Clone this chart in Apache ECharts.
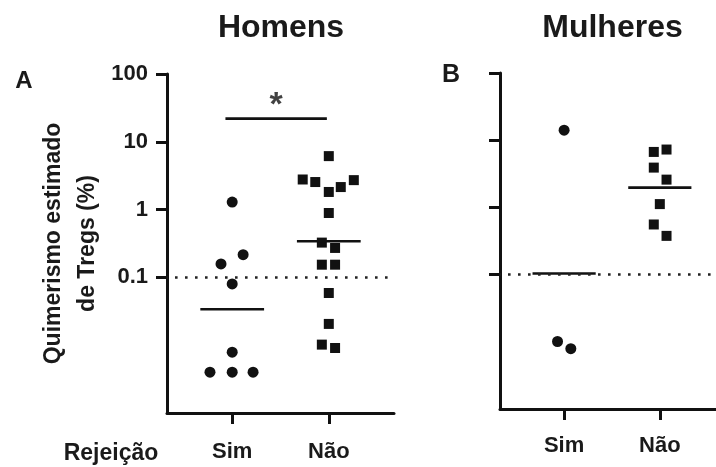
<!DOCTYPE html>
<html>
<head>
<meta charset="utf-8">
<script src="https://cdn.jsdelivr.net/npm/echarts@6/dist/echarts.min.js"></script>
<style>
  html, body { margin: 0; padding: 0; background: #fff; }
  #chart { width: 716px; height: 467px; }
</style>
</head>
<body>
<div id="chart"></div>
<script>
// Groups on the x axis, positioned at 1 and 2
const categories = ['Sim', 'Não'];
// Log-scale ticks shown on the y axis
const yTickValues = [0.1, 1, 10, 100];
const yTickLabels = ['0.1', '1', '10', '100'];

// Homens – estimated Treg chimerism (%) and horizontal spread of each point
const homensSimValues = [1.29, 0.216, 0.158, 0.080, 0.0079, 0.0040, 0.0040, 0.0040];
const homensSimJitter = [0, 0.113, -0.116, 0, 0, -0.23, 0, 0.216];
const homensNaoValues = [6.15, 2.78, 2.55, 1.82, 2.15, 2.72, 0.891, 0.326, 0.272, 0.154, 0.154, 0.0589, 0.0206, 0.0102, 0.0091];
const homensNaoJitter = [0, -0.27, -0.14, 0, 0.124, 0.259, 0, -0.072, 0.065, -0.072, 0.065, 0, 0, -0.072, 0.065];

// Mulheres
const mulheresSimValues = [14.1, 0.0101, 0.0079];
const mulheresSimJitter = [0, -0.069, 0.07];
const mulheresNaoValues = [6.69, 7.26, 3.91, 2.59, 1.12, 0.557, 0.377];
const mulheresNaoJitter = [-0.063, 0.07, -0.063, 0.07, 0, -0.063, 0.07];

// Detection threshold and significance bracket (Homens)
const thresholdValue = 0.1;
const sigBarX = [0.93, 1.98];
const sigBarValue = 22;
const sigLabel = '*';

const FONT = "'Liberation Sans', Arial, Helvetica, sans-serif";
const INK = '#111';
const TEXT = '#1a1a1a';
const HALF = 0.33;

function geoMean(arr) {
  let s = 0;
  arr.forEach(v => { s += Math.log10(v); });
  return Math.pow(10, s / arr.length);
}
function points(values, jitter, pos) {
  return values.map((v, i) => [pos + jitter[i], v]);
}
function meanLine(values, pos, idx) {
  const g = geoMean(values);
  return {
    type: 'line', xAxisIndex: idx, yAxisIndex: idx, silent: true,
    symbol: 'none', z: 4,
    lineStyle: { color: INK, width: 2.6 },
    data: [[pos - HALF, g], [pos + HALF, g]]
  };
}
function scatter(values, jitter, pos, idx, symbol, size) {
  return {
    type: 'scatter', xAxisIndex: idx, yAxisIndex: idx, symbol: symbol,
    symbolSize: size, itemStyle: { color: INK, opacity: 1 }, z: 3,
    data: points(values, jitter, pos)
  };
}
function thresholdSeries(idx) {
  return {
    type: 'line', xAxisIndex: idx, yAxisIndex: idx, data: [], silent: true,
    markLine: {
      silent: true, symbol: ['none', 'none'], label: { show: false },
      lineStyle: { color: '#222', width: 2.6, type: [2.6, 7.4], dashOffset: -8 },
      data: [{ yAxis: thresholdValue }]
    }
  };
}
function xAxis(idx, min, max, margin) {
  return {
    type: 'value', gridIndex: idx, min: min, max: max,
    axisLine: { show: true, onZero: false, lineStyle: { color: INK, width: 3 } },
    splitLine: { show: false },
    axisTick: { show: true, customValues: [1, 2], length: 11, lineStyle: { color: INK, width: 3 } },
    axisLabel: {
      show: true, customValues: [1, 2], margin: margin,
      formatter: v => categories[Math.round(v) - 1],
      fontFamily: FONT, fontSize: 22, fontWeight: 'bold', color: TEXT
    }
  };
}
function yAxis(idx, showLabels) {
  const ax = {
    type: 'log', logBase: 10, gridIndex: idx, min: 0.001, max: 100,
    axisLine: { show: true, onZero: false, lineStyle: { color: INK, width: 3 } },
    splitLine: { show: false },
    minorTick: { show: false },
    axisTick: { show: true, customValues: yTickValues, length: 11, lineStyle: { color: INK, width: 3 } },
    axisLabel: {
      show: showLabels, customValues: yTickValues, margin: 19,
      formatter: v => {
        const i = yTickValues.findIndex(t => Math.abs(Math.log10(t) - Math.log10(v)) < 1e-6);
        return i >= 0 ? yTickLabels[i] : '';
      },
      fontFamily: FONT, fontSize: 22, fontWeight: 'bold', color: TEXT
    }
  };
  if (showLabels) {
    ax.name = 'Quimerismo estimado\nde Tregs (%)';
    ax.nameLocation = 'middle';
    ax.nameGap = 62;
    ax.nameTextStyle = { fontFamily: FONT, fontSize: 23, fontWeight: 'bold', color: TEXT, lineHeight: 34 };
  }
  return ax;
}

const chart = echarts.init(document.getElementById('chart'), null, { renderer: 'canvas' });
chart.setOption({
  animation: false,
  backgroundColor: '#fff',
  grid: [
    { left: 167, top: 74, width: 227, height: 339 },
    { left: 500, top: 73, width: 216, height: 336 }
  ],
  xAxis: [xAxis(0, 0.325, 2.675, 28), xAxis(1, 0.33, 2.587, 26)],
  yAxis: [yAxis(0, true), yAxis(1, false)],
  series: [
    thresholdSeries(0),
    thresholdSeries(1),
    scatter(homensSimValues, homensSimJitter, 1, 0, 'circle', 11),
    scatter(homensNaoValues, homensNaoJitter, 2, 0, 'rect', 10),
    meanLine(homensSimValues, 1, 0),
    meanLine(homensNaoValues, 2, 0),
    scatter(mulheresSimValues, mulheresSimJitter, 1, 1, 'circle', 11),
    scatter(mulheresNaoValues, mulheresNaoJitter, 2, 1, 'rect', 10),
    meanLine(mulheresSimValues, 1, 1),
    meanLine(mulheresNaoValues, 2, 1),
    {
      type: 'line', xAxisIndex: 0, yAxisIndex: 0, silent: true, symbol: 'none',
      lineStyle: { color: INK, width: 2.6 },
      data: sigBarX.map(x => [x, sigBarValue])
    },
    {
      type: 'scatter', xAxisIndex: 0, yAxisIndex: 0, silent: true, symbolSize: 0,
      data: [[(sigBarX[0] + sigBarX[1]) / 2, sigBarValue]],
      label: {
        show: true, position: 'top', distance: 0, offset: [0, 4],
        formatter: sigLabel, fontFamily: FONT, fontSize: 34, fontWeight: 'bold', color: INK
      }
    }
  ],
  graphic: [
    { type: 'text', style: { text: 'Homens', x: 281, y: 28.5, align: 'center', verticalAlign: 'middle', font: 'bold 32px ' + FONT, fill: TEXT } },
    { type: 'text', style: { text: 'Mulheres', x: 612.5, y: 28, align: 'center', verticalAlign: 'middle', font: 'bold 32px ' + FONT, fill: TEXT } },
    { type: 'text', style: { text: 'A', x: 24, y: 81, align: 'center', verticalAlign: 'middle', font: 'bold 24px ' + FONT, fill: TEXT } },
    { type: 'text', style: { text: 'B', x: 451, y: 75.5, align: 'center', verticalAlign: 'middle', font: 'bold 25px ' + FONT, fill: TEXT } },
    { type: 'text', style: { text: 'Rejeição', x: 111, y: 454, align: 'center', verticalAlign: 'middle', font: 'bold 23px ' + FONT, fill: TEXT } }
  ]
});
</script>
</body>
</html>
